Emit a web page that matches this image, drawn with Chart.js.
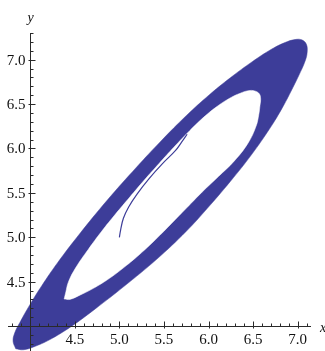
<!DOCTYPE html>
<html>
<head>
<meta charset="utf-8">
<script src="https://cdn.jsdelivr.net/npm/chart.js@4.4.0/dist/chart.umd.min.js"></script>
<style>
  html, body { margin: 0; padding: 0; background: #ffffff; }
  #wrap { width: 325px; height: 351px; position: relative; }
</style>
</head>
<body>
<div id="wrap"><canvas id="plot"></canvas></div>
<script>
// Outer edge of the filled orbit band (x, y), traced once around
const ringOuterX = [3.837, 3.807, 3.825, 3.885, 3.996, 4.131, 4.303, 4.546, 4.863, 5.195, 5.468, 5.750, 6.010, 6.245, 6.491, 6.706, 6.859, 6.970, 7.046, 7.097, 7.107, 7.083, 7.015, 6.937, 6.821, 6.694, 6.481, 6.244, 5.984, 5.748, 5.421, 5.049, 4.739, 4.477, 4.241, 4.056, 3.923, 3.837];
const ringOuterY = [3.745, 3.829, 3.922, 4.044, 4.242, 4.458, 4.709, 5.029, 5.417, 5.792, 6.085, 6.369, 6.605, 6.796, 6.977, 7.117, 7.193, 7.226, 7.223, 7.175, 7.083, 6.981, 6.826, 6.666, 6.445, 6.235, 5.928, 5.628, 5.323, 5.065, 4.755, 4.445, 4.202, 4.008, 3.860, 3.773, 3.734, 3.745];

// Inner edge of the band (the empty region in the middle)
const ringInnerX = [4.380, 4.399, 4.427, 4.507, 4.650, 4.799, 4.956, 5.117, 5.279, 5.445, 5.613, 5.786, 5.967, 6.126, 6.258, 6.356, 6.444, 6.518, 6.570, 6.585, 6.578, 6.564, 6.533, 6.443, 6.290, 6.111, 5.930, 5.756, 5.582, 5.406, 5.223, 5.029, 4.865, 4.688, 4.545, 4.444, 4.380];
const ringInnerY = [4.306, 4.385, 4.495, 4.653, 4.863, 5.065, 5.261, 5.453, 5.644, 5.831, 6.016, 6.198, 6.370, 6.495, 6.577, 6.622, 6.650, 6.648, 6.615, 6.555, 6.488, 6.381, 6.249, 6.059, 5.860, 5.684, 5.511, 5.332, 5.153, 4.975, 4.804, 4.643, 4.522, 4.414, 4.343, 4.301, 4.306];

// Transient: the trajectory leaving the start point (5, 5) until it joins the band
const transientX = [5.000, 5.014, 5.045, 5.104, 5.200, 5.331, 5.481, 5.628, 5.700, 5.760];
const transientY = [5.000, 5.085, 5.214, 5.342, 5.490, 5.659, 5.827, 5.975, 6.075, 6.160];

// Axis ticks and labels
const xTickValues = [4.5, 5.0, 5.5, 6.0, 6.5, 7.0];
const xTickLabels = ['4.5', '5.0', '5.5', '6.0', '6.5', '7.0'];
const yTickValues = [4.5, 5.0, 5.5, 6.0, 6.5, 7.0];
const yTickLabels = ['4.5', '5.0', '5.5', '6.0', '6.5', '7.0'];
const axisOrigin = [4, 4];
const axisNames = ['x', 'y'];

const bandColor = '#3d3d99';
const serif = '"Liberation Serif", "Times New Roman", serif';

function toPoints(xs, ys) {
  return xs.map((v, i) => ({ x: v, y: ys[i] }));
}

// Axes crossing at axisOrigin, with inward ticks, drawn over the data
const crossAxes = {
  id: 'crossAxes',
  afterDatasetsDraw(chart) {
    const { ctx, chartArea: a, scales: { x, y } } = chart;
    const ax = Math.round(x.getPixelForValue(axisOrigin[0])) + 0.5;
    const ay = Math.round(y.getPixelForValue(axisOrigin[1])) + 0.5;
    ctx.save();
    ctx.strokeStyle = '#2a2a2a';
    ctx.lineWidth = 1;
    ctx.beginPath();
    ctx.moveTo(a.left, ay); ctx.lineTo(a.right, ay);
    ctx.moveTo(ax, a.top); ctx.lineTo(ax, a.bottom);

    // minor ticks every 0.1
    for (let i = Math.ceil(x.min * 10); i <= Math.floor(x.max * 10); i++) {
      if (i % 5 === 0) continue;
      const px = Math.round(x.getPixelForValue(i / 10)) + 0.5;
      ctx.moveTo(px, ay); ctx.lineTo(px, ay - 3);
    }
    for (let i = Math.ceil(y.min * 10); i <= Math.floor(y.max * 10); i++) {
      if (i % 5 === 0) continue;
      const py = Math.round(y.getPixelForValue(i / 10)) + 0.5;
      ctx.moveTo(ax, py); ctx.lineTo(ax + 3, py);
    }
    // major ticks
    xTickValues.forEach(v => {
      const px = Math.round(x.getPixelForValue(v)) + 0.5;
      ctx.moveTo(px, ay + 2); ctx.lineTo(px, ay - 5);
    });
    yTickValues.forEach(v => {
      const py = Math.round(y.getPixelForValue(v)) + 0.5;
      ctx.moveTo(ax - 2, py); ctx.lineTo(ax + 5, py);
    });
    ctx.stroke();

    // tick labels
    ctx.fillStyle = '#111111';
    ctx.font = '15px ' + serif;
    ctx.textBaseline = 'alphabetic';
    ctx.textAlign = 'center';
    xTickValues.forEach((v, i) => {
      ctx.fillText(xTickLabels[i], x.getPixelForValue(v), ay + 17);
    });
    ctx.textAlign = 'right';
    yTickValues.forEach((v, i) => {
      ctx.fillText(yTickLabels[i], ax - 5, y.getPixelForValue(v) + 5);
    });

    // axis names
    ctx.font = 'italic 14px ' + serif;
    ctx.textAlign = 'left';
    ctx.fillText(axisNames[0], a.right + 9, ay + 5);
    ctx.textAlign = 'center';
    ctx.fillText(axisNames[1], ax, a.top - 11);
    ctx.restore();
  }
};

function drawChart() {
  new Chart(document.getElementById('plot'), {
    type: 'scatter',
    data: {
      datasets: [
        {
          label: 'band',
          data: toPoints(ringOuterX, ringOuterY),
          showLine: true,
          fill: 'shape',
          backgroundColor: bandColor,
          borderColor: bandColor,
          borderWidth: 0.5,
          tension: 0.4,
          pointRadius: 0,
          order: 3
        },
        {
          label: 'hole',
          data: toPoints(ringInnerX, ringInnerY),
          showLine: true,
          fill: 'shape',
          backgroundColor: '#ffffff',
          borderColor: '#ffffff',
          borderWidth: 0.5,
          tension: 0.4,
          pointRadius: 0,
          order: 2
        },
        {
          label: 'transient',
          data: toPoints(transientX, transientY),
          showLine: true,
          fill: false,
          borderColor: bandColor,
          borderWidth: 1.2,
          tension: 0.4,
          pointRadius: 0,
          order: 1
        }
      ]
    },
    options: {
      responsive: true,
      maintainAspectRatio: false,
      animation: false,
      events: [],
      layout: { padding: { left: 8, right: 14, top: 33, bottom: 0 } },
      plugins: { legend: { display: false }, tooltip: { enabled: false } },
      scales: {
        x: { type: 'linear', min: 3.75, max: 7.15, display: false },
        y: { type: 'linear', min: 3.72, max: 7.30, display: false }
      }
    },
    plugins: [crossAxes]
  });
}

Promise.all([
  document.fonts.load('15px "Liberation Serif"'),
  document.fonts.load('italic 14px "Liberation Serif"')
]).then(drawChart, drawChart);
</script>
</body>
</html>
